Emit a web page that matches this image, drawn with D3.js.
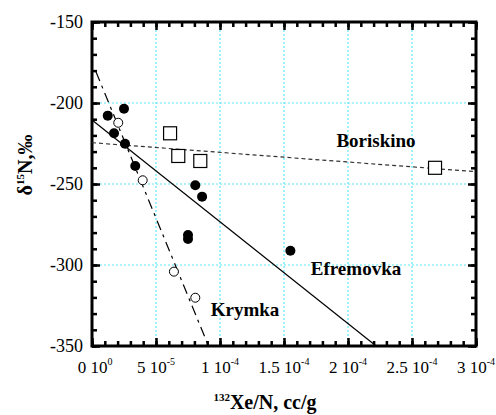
<!DOCTYPE html>
<html><head><script src="https://d3js.org/d3.v7.min.js"></script></head>
<body style="margin:0">
<svg id="chart" width="496" height="415"></svg>
<script>
// --- data ---
const efremovkaX = [1.23e-5, 2.5e-5, 1.72e-5, 2.58e-5, 3.38e-5, 8.07e-5, 8.6e-5, 7.5e-5, 7.5e-5, 1.55e-4];
const efremovkaY = [-207.8, -203.5, -218.7, -225.1, -238.9, -250.8, -257.8, -281.5, -284, -291.2];
const krymkaX = [2.05e-5, 3.96e-5, 6.4e-5, 8.07e-5];
const krymkaY = [-212.2, -247.7, -304.1, -320.2];
const boriskinoX = [6.1e-5, 6.74e-5, 8.46e-5, 2.68e-4];
const boriskinoY = [-218.7, -232.7, -235.8, -240];

// fit lines (end points)
const efremovkaLineX = [0, 2.22e-4];
const efremovkaLineY = [-210.5, -350];
const krymkaLineX = [3.1e-6, 9.1e-5];
const krymkaLineY = [-180.7, -350];
const boriskinoLineX = [0, 3e-4];
const boriskinoLineY = [-224.5, -242.4];

const xTicks = [0, 5e-5, 1e-4, 1.5e-4, 2e-4, 2.5e-4, 3e-4];
const xTickMant = ["0", "5", "1", "1.5", "2", "2.5", "3"];
const xTickExp = ["0", "-5", "-4", "-4", "-4", "-4", "-4"];
const yTicks = [-350, -300, -250, -200, -150];

const margin = { left: 92, right: 20, top: 22, bottom: 69 };
const W = 496, H = 415;
const serif = "Liberation Serif";

const svg = d3.select("#chart");
const x = d3.scaleLinear().domain([0, 3e-4]).range([margin.left, W - margin.right]);
const y = d3.scaleLinear().domain([-350, -150]).range([H - margin.bottom, margin.top]);

function addText(sel, size, bold) {
  const t = sel.append("text")
    .style("font-family", serif)
    .style("font-size", size + "px");
  if (bold) t.style("font-weight", "bold");
  return t;
}

// grid
const grid = svg.append("g").attr("stroke", "#5ee8f5").attr("stroke-width", 1.2).attr("stroke-dasharray", "2,2");
xTicks.slice(1, -1).forEach(t => {
  grid.append("line").attr("x1", x(t)).attr("x2", x(t)).attr("y1", y(-150)).attr("y2", y(-350));
});
yTicks.slice(1, -1).forEach(t => {
  grid.append("line").attr("x1", x(0)).attr("x2", x(3e-4)).attr("y1", y(t)).attr("y2", y(t));
});

// axes: ticks pointing inward
const xMinor = d3.range(0, 3.0001e-4, 1e-5);
const yMinor = d3.range(-350, -149, 10);
function tickAxis(axisFn, scale, vals, size, tr) {
  const g = svg.append("g").attr("transform", tr)
    .call(axisFn(scale).tickValues(vals).tickSize(-size).tickFormat(""));
  g.select(".domain").remove();
  g.selectAll("text").remove();
  g.selectAll("line").attr("stroke", "#000").attr("stroke-width", 2.5);
}
[[d3.axisBottom, `translate(0,${y(-350)})`], [d3.axisTop, `translate(0,${y(-150)})`]].forEach(([fn, tr]) => {
  tickAxis(fn, x, xMinor, 5, tr);
  tickAxis(fn, x, xTicks, 8, tr);
});
[[d3.axisLeft, `translate(${x(0)},0)`], [d3.axisRight, `translate(${x(3e-4)},0)`]].forEach(([fn, tr]) => {
  tickAxis(fn, y, yMinor, 5, tr);
  tickAxis(fn, y, yTicks, 8, tr);
});

// frame
svg.append("rect")
  .attr("x", x(0)).attr("y", y(-150))
  .attr("width", x(3e-4) - x(0)).attr("height", y(-350) - y(-150))
  .attr("fill", "none").attr("stroke", "#000").attr("stroke-width", 3);

// tick labels
yTicks.forEach(t => {
  addText(svg, 18, false)
    .attr("x", x(0) - 9).attr("y", y(t) + 6)
    .attr("text-anchor", "end").text(t);
});
xTicks.forEach((t, i) => {
  const tx = addText(svg, 17, false)
    .attr("x", x(t) + (i === 0 ? 3 : 0)).attr("y", y(-350) + 27).attr("text-anchor", "middle");
  tx.append("tspan").text(xTickMant[i] + " 10");
  tx.append("tspan").attr("dy", -8).style("font-size", "10px").text(xTickExp[i]);
});

// fit lines
function fitLine(xs, ys, dash, color) {
  svg.append("path")
    .datum(xs.map((v, i) => [v, ys[i]]))
    .attr("d", d3.line().x(d => x(d[0])).y(d => y(d[1])))
    .attr("fill", "none").attr("stroke", color).attr("stroke-width", 1.2)
    .attr("stroke-dasharray", dash);
}
fitLine(efremovkaLineX, efremovkaLineY, null, "#000");
fitLine(boriskinoLineX, boriskinoLineY, "4,3", "#333");
fitLine(krymkaLineX, krymkaLineY, "10,5,3,5", "#000");

// points
svg.append("g").selectAll("rect")
  .data(boriskinoX.map((v, i) => [v, boriskinoY[i]]))
  .join("rect")
  .attr("x", d => x(d[0]) - 6.5).attr("y", d => y(d[1]) - 6.5)
  .attr("width", 13).attr("height", 13)
  .attr("fill", "#fff").attr("stroke", "#000").attr("stroke-width", 1.2);
svg.append("g").selectAll("circle")
  .data(krymkaX.map((v, i) => [v, krymkaY[i]]))
  .join("circle")
  .attr("cx", d => x(d[0])).attr("cy", d => y(d[1])).attr("r", 4.5)
  .attr("fill", "#fff").attr("stroke", "#000").attr("stroke-width", 1);
svg.append("g").selectAll("circle")
  .data(efremovkaX.map((v, i) => [v, efremovkaY[i]]))
  .join("circle")
  .attr("cx", d => x(d[0])).attr("cy", d => y(d[1])).attr("r", 5)
  .attr("fill", "#000");

// series labels
[["Boriskino", 376, 147], ["Efremovka", 356, 275], ["Krymka", 245, 316]].forEach(([s, lx, ly]) => {
  addText(svg, 19, true).attr("x", lx).attr("y", ly).attr("text-anchor", "middle").text(s);
});

// axis titles
const xt = addText(svg, 20, true).attr("x", 265).attr("y", 409).attr("text-anchor", "middle");
xt.append("tspan").style("font-size", "11px").attr("dy", -8).text("132");
xt.append("tspan").attr("dy", 8).text("Xe/N, cc/g");

const yt = addText(svg, 20, true)
  .attr("transform", `translate(32,165) rotate(-90)`)
  .attr("text-anchor", "middle");
yt.append("tspan").text("\u03B4");
yt.append("tspan").style("font-size", "11px").attr("dy", -8).text("15");
yt.append("tspan").attr("dy", 8).text("N,\u2030");
</script>
</body>
</html>
